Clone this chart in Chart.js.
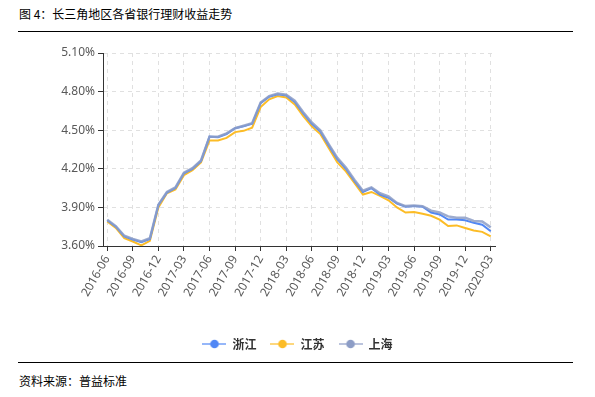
<!DOCTYPE html>
<html>
<head>
<meta charset="utf-8">
<script src="https://cdn.jsdelivr.net/npm/chart.js@4.4.1/dist/chart.umd.min.js"></script>
<style>
  body { margin: 0; background: #fff; width: 595px; height: 397px; position: relative; overflow: hidden; font-family: "Noto Sans CJK SC", sans-serif; }
  #title { position: absolute; left: 19px; top: 6px; font-size: 12px; line-height: 16px; color: #000; white-space: pre; }
  .rule { position: absolute; left: 18px; width: 555px; height: 0; border-top: 1px solid #000; }
  #src { position: absolute; left: 19px; top: 373px; font-size: 12px; line-height: 16px; color: #000; }
  #wrap { position: absolute; left: 0; top: 40px; width: 595px; height: 330px; }
</style>
</head>
<body>
<div id="title">图 4：长三角地区各省银行理财收益走势</div>
<div class="rule" style="top:31px"></div>
<div id="wrap"><canvas id="linechart" width="595" height="330"></canvas></div>
<div class="rule" style="top:362px"></div>
<div id="src">资料来源：普益标准</div>
<script>
var months = ['2016-06', '2016-07', '2016-08', '2016-09', '2016-10', '2016-11', '2016-12',
    '2017-01', '2017-02', '2017-03', '2017-04', '2017-05', '2017-06', '2017-07', '2017-08', '2017-09', '2017-10', '2017-11', '2017-12',
    '2018-01', '2018-02', '2018-03', '2018-04', '2018-05', '2018-06', '2018-07', '2018-08', '2018-09', '2018-10', '2018-11', '2018-12',
    '2019-01', '2019-02', '2019-03', '2019-04', '2019-05', '2019-06', '2019-07', '2019-08', '2019-09', '2019-10', '2019-11', '2019-12',
    '2020-01', '2020-02', '2020-03'];

var xTickLabels = ['2016-06', '2016-09', '2016-12', '2017-03', '2017-06', '2017-09', '2017-12', '2018-03',
    '2018-06', '2018-09', '2018-12', '2019-03', '2019-06', '2019-09', '2019-12', '2020-03'];

var yTicks = [3.6, 3.9, 4.2, 4.5, 4.8, 5.1];

// 收益率 (%)
var zhejiang = [3.80, 3.75, 3.675, 3.65, 3.63, 3.655, 3.92, 4.015, 4.05, 4.165,
    4.20, 4.26, 4.45, 4.445, 4.47, 4.515, 4.53, 4.55, 4.71, 4.76,
    4.78, 4.77, 4.72, 4.63, 4.55, 4.49, 4.38, 4.275, 4.20, 4.105,
    4.02, 4.05, 4.00, 3.975, 3.93, 3.905, 3.91, 3.905, 3.86, 3.845,
    3.805, 3.805, 3.80, 3.78, 3.765, 3.715];

var jiangsu = [3.79, 3.74, 3.66, 3.635, 3.605, 3.64, 3.90, 4.01, 4.04, 4.15,
    4.19, 4.25, 4.42, 4.42, 4.44, 4.485, 4.495, 4.52, 4.68, 4.74,
    4.765, 4.755, 4.70, 4.61, 4.53, 4.47, 4.36, 4.25, 4.18, 4.09,
    4.00, 4.02, 3.99, 3.955, 3.90, 3.86, 3.865, 3.85, 3.835, 3.805,
    3.755, 3.76, 3.74, 3.72, 3.71, 3.675];

var shanghai = [3.805, 3.755, 3.68, 3.655, 3.635, 3.66, 3.92, 4.02, 4.055, 4.17,
    4.205, 4.265, 4.45, 4.45, 4.475, 4.515, 4.535, 4.555, 4.715, 4.765,
    4.785, 4.775, 4.73, 4.64, 4.56, 4.50, 4.39, 4.285, 4.21, 4.115,
    4.03, 4.055, 4.01, 3.985, 3.935, 3.91, 3.915, 3.91, 3.875, 3.86,
    3.83, 3.82, 3.82, 3.795, 3.79, 3.745];

// legend marker: short line with a dot
function legendIcon(color) {
    var c = document.createElement('canvas');
    c.width = 24; c.height = 10;
    var g = c.getContext('2d');
    g.strokeStyle = color;
    g.lineWidth = 1.2;
    g.beginPath(); g.moveTo(0, 5); g.lineTo(24, 5); g.stroke();
    g.fillStyle = color;
    g.beginPath(); g.arc(12, 5, 4.3, 0, Math.PI * 2); g.fill();
    return c;
}

var tickFont = { family: '"Noto Sans", sans-serif', size: 12 };

var crt = document.getElementById("linechart").getContext('2d');
new Chart(crt, {
    type: "line",
    data: {
        labels: months,
        datasets: [
            {
                label: '浙江',
                data: zhejiang,
                borderColor: '#5087f5',
                borderWidth: 2,
                pointRadius: 0,
                pointStyle: legendIcon('#5087f5'),
                tension: 0,
                order: 1
            },
            {
                label: '江苏',
                data: jiangsu,
                borderColor: '#fcbc26',
                borderWidth: 2,
                pointRadius: 0,
                pointStyle: legendIcon('#fcbc26'),
                tension: 0,
                order: 2
            },
            {
                label: '上海',
                data: shanghai,
                borderColor: 'rgba(141,157,198,0.85)',
                borderWidth: 2.5,
                pointRadius: 0,
                pointStyle: legendIcon('#8d9dc6'),
                tension: 0,
                order: 0
            }
        ]
    },
    options: {
        responsive: false,
        animation: false,
        events: [],
        layout: { padding: { left: 0, right: 0, top: 13, bottom: 10 } },
        plugins: {
            legend: {
                position: 'bottom',
                labels: {
                    usePointStyle: true,
                    pointStyleWidth: 24,
                    padding: 14,
                    color: '#333',
                    font: { family: '"Noto Sans CJK SC", sans-serif', size: 12, weight: 'bold' },
                    sort: function (a, b) { return a.datasetIndex - b.datasetIndex; }
                }
            },
            tooltip: { enabled: false }
        },
        scales: {
            x: {
                type: 'category',
                offset: true,
                afterBuildTicks: function (scale) {
                    scale.ticks = scale.ticks.filter(function (t) {
                        return xTickLabels.indexOf(months[t.value]) >= 0;
                    });
                },
                afterFit: function (scale) { scale.height = 78; },
                grid: {
                    offset: false,
                    color: '#e0e0e0',
                    tickColor: '#333',
                    tickBorderDash: [],
                    tickLength: 5
                },
                border: { display: true, color: '#333', width: 1, dash: [4, 4] },
                ticks: {
                    autoSkip: false,
                    minRotation: 60,
                    maxRotation: 60,
                    padding: 2,
                    color: '#595959',
                    font: tickFont
                }
            },
            y: {
                min: 3.6,
                max: 5.1,
                afterBuildTicks: function (scale) {
                    scale.ticks = yTicks.map(function (v) { return { value: v }; });
                },
                afterFit: function (scale) { scale.width = 103; },
                grid: {
                    color: '#e0e0e0',
                    tickColor: '#333',
                    tickBorderDash: [],
                    tickLength: 5
                },
                border: { display: true, color: '#333', width: 1, dash: [4, 4] },
                ticks: {
                    padding: 3,
                    color: '#595959',
                    font: tickFont,
                    callback: function (v) { return v.toFixed(2) + '%'; }
                }
            },
            // empty right-hand space so the legend stays centred on the page
            yPad: {
                position: 'right',
                afterFit: function (scale) { scale.width = 100; },
                grid: { display: false },
                border: { display: false },
                ticks: { display: false }
            }
        }
    }
});
</script>
</body>
</html>
